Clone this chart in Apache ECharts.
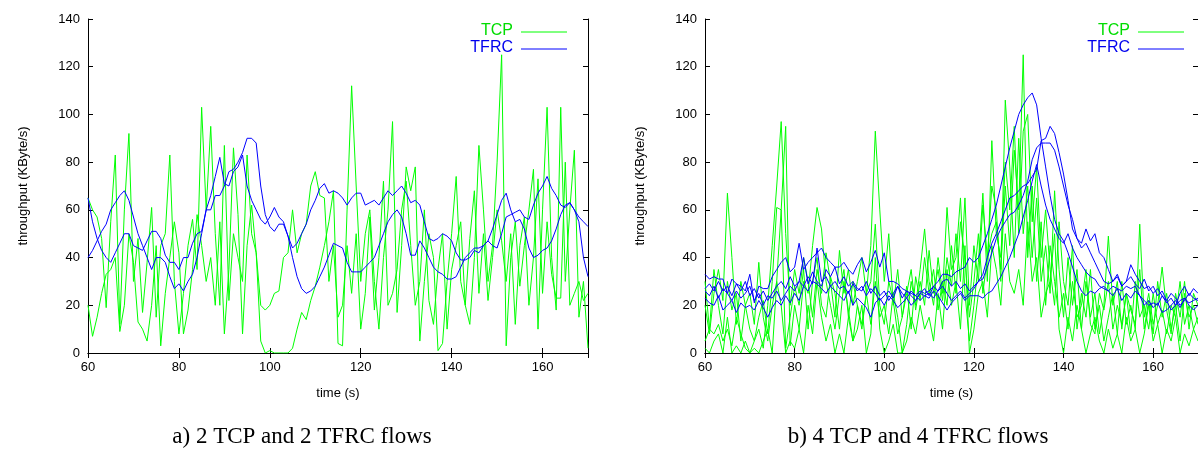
<!DOCTYPE html>
<html><head><meta charset="utf-8">
<script src="https://cdn.jsdelivr.net/npm/echarts@6/dist/echarts.min.js"></script>
<style>html,body{margin:0;padding:0;background:#fff}#c{width:1198px;height:452px}</style>
</head><body><div id="c"></div>
<script>
const timeStart = 60;
const timeStep = 1;
const xTicks = [60, 80, 100, 120, 140, 160];
const xMax = 170;
const yTicks = [0, 20, 40, 60, 80, 100, 120, 140];
const seriesNames = ['TCP', 'TFRC'];
const captions = ['a) 2 TCP and 2 TFRC flows', 'b) 4 TCP and 4 TFRC flows'];

// ---- a) 2 TCP and 2 TFRC flows (KByte/s, one value per second from t=60) ----
const leftTcp1 = [
  65,60,57,48,19,55,83,12,60,92,
  30,48,17,38,61,15,45,50,83,30,
  8,25,45,56,35,103,60,95,50,20,
  87,22,50,40,30,83,50,42,5,0,
  1,0,0,0,0,2,10,17,14,22,
  28,36,45,55,68,4,3,60,112,70,
  30,50,60,30,10,40,60,97,17,45,
  78,68,78,5,30,50,40,1,4,30,
  50,74,30,20,12,40,87,60,30,45,
  80,125,3,40,55,28,45,60,77,10,
  60,103,40,18,103,30,60,85,15,30,
  2];
const leftTcp2 = [
  20,7,15,25,33,35,40,9,20,50,
  38,13,10,5,20,45,3,25,40,55,
  42,8,18,35,58,45,30,40,20,55,
  8,35,86,58,8,45,62,42,20,18,
  20,25,26,40,42,60,42,50,54,70,
  76,66,65,30,45,15,20,45,25,50,
  10,25,57,18,40,72,20,25,35,60,
  72,45,20,30,60,22,12,35,50,10,
  35,45,55,20,48,68,25,50,22,40,
  60,47,30,50,12,45,57,20,40,73,
  25,55,33,23,23,80,20,25,30,22,
  25];
const leftTfrc1 = [
  65,55,48,43,40,38,42,46,50,50,
  45,44,43,47,51,51,48,41,38,38,
  35,40,40,46,50,51,60,60,66,66,
  70,76,77,80,84,90,90,88,70,58,
  53,51,54,54,49,44,46,50,54,60,
  64,69,71,67,68,67,65,62,65,67,
  67,62,63,64,62,65,68,66,68,70,
  67,63,64,62,55,48,47,48,50,49,
  47,42,39,39,40,43,42,45,47,45,
  44,50,57,58,59,60,57,56,62,67,
  70,74,69,66,62,61,63,60,57,55,
  53];
const leftTfrc2 = [
  40,43,47,51,54,60,63,66,68,64,
  57,50,45,40,35,40,40,38,32,27,
  29,26,30,33,40,50,60,66,74,82,
  71,70,76,78,83,70,64,60,56,54,
  57,61,57,55,49,40,32,27,25,26,
  28,32,36,41,46,45,44,38,34,34,
  34,36,38,40,45,50,55,58,60,57,
  50,41,41,47,44,40,36,34,33,31,
  31,32,36,40,42,44,44,45,47,52,
  58,64,67,60,55,56,52,44,40,41,
  43,44,47,52,58,62,63,60,55,40,
  32];

// ---- b) 4 TCP and 4 TFRC flows ----
const rightTcp1 = [
  20,8,25,35,22,67,40,12,30,20,
  25,12,38,15,5,20,30,60,2,15,
  28,20,35,10,30,40,20,15,32,25,
  10,30,18,5,20,12,25,30,54,20,
  12,30,22,8,15,25,35,18,30,20,
  43,25,35,22,40,28,50,30,65,20,
  45,30,62,40,50,55,35,70,45,85,
  60,125,40,70,30,55,20,45,30,15,
  25,10,30,15,20,35,12,8,25,18,
  30,10,20,12,25,8,30,15,20,10,
  25,12,18,8,20,15,30,12,20,10,
  15];
const rightTcp2 = [
  5,10,8,12,5,10,3,15,8,2,
  0,5,10,2,20,45,70,97,50,20,
  35,25,40,30,15,35,25,42,30,15,
  43,25,35,20,30,40,25,45,93,60,
  30,50,20,35,15,28,10,32,22,40,
  25,35,18,30,20,45,25,55,40,15,
  30,50,25,40,70,60,30,106,78,40,
  90,50,70,40,65,30,45,25,68,35,
  15,40,20,35,10,30,15,25,8,20,
  49,20,30,10,25,18,12,35,10,22,
  8,30,15,25,10,20,5,25,15,20,
  12];
const rightTcp3 = [
  30,10,35,20,8,30,18,25,5,20,
  10,5,15,22,8,30,61,60,95,3,
  20,10,30,25,45,61,52,30,20,10,
  25,35,15,30,20,10,25,12,30,15,
  20,8,25,15,0,12,30,20,35,52,
  30,20,40,25,61,35,40,65,25,5,
  20,38,67,30,89,50,40,80,60,95,
  50,93,100,55,78,40,60,35,20,55,
  30,20,45,10,25,15,35,10,20,5,
  15,25,8,30,12,20,10,54,15,25,
  12,20,36,18,8,25,15,30,10,25,
  20];
const rightTcp4 = [
  2,0,5,8,0,15,0,3,0,5,
  0,2,0,5,10,0,30,20,0,5,
  2,10,0,20,8,30,15,5,12,0,
  8,0,15,5,10,20,0,8,40,10,
  0,5,12,0,0,5,15,8,20,10,
  15,5,25,10,35,20,30,10,45,0,
  10,25,30,15,45,35,20,50,30,25,
  35,20,55,30,40,15,25,30,50,10,
  0,15,5,20,10,0,8,15,5,0,
  10,2,8,0,15,5,10,0,8,20,
  5,12,0,10,5,15,0,8,3,10,
  5];
const rightTfrc1 = [
  33,31,32,31,31,25,31,29,28,26,
  33,21,28,27,27,32,35,38,40,34,
  36,46,35,38,40,42,44,40,38,36,
  36,38,35,33,37,40,34,38,43,36,
  42,30,30,29,27,26,25,24,26,25,
  26,28,30,33,33,32,34,35,36,40,
  38,40,45,50,56,62,70,78,86,93,
  100,104,107,109,104,90,78,66,56,50,
  47,42,36,30,26,24,26,25,27,28,
  26,28,27,26,28,27,28,24,22,20,
  21,20,24,22,18,20,22,23,21,22,
  23];
const rightTfrc2 = [
  27,29,26,30,26,28,24,29,26,30,
  24,27,23,26,22,25,28,30,27,32,
  28,30,40,29,34,30,28,35,32,36,
  29,32,28,30,27,26,30,25,28,24,
  26,22,25,28,23,26,24,22,25,27,
  24,28,26,30,31,28,30,27,29,26,
  28,30,33,40,46,50,55,60,65,66,
  68,70,71,74,77,89,90,95,92,84,
  75,64,52,48,46,52,47,50,42,40,
  35,30,32,28,30,37,33,30,27,28,
  25,27,24,21,23,20,25,28,24,27,
  25];
const rightTfrc3 = [
  26,24,28,23,27,25,22,26,23,25,
  28,22,25,20,24,23,26,22,25,28,
  26,30,28,32,29,44,30,32,28,30,
  27,28,25,29,26,28,24,27,25,22,
  24,26,23,28,25,23,26,24,22,24,
  25,23,26,28,25,22,24,26,23,25,
  27,30,31,36,42,48,52,55,58,59,
  62,66,72,81,86,88,88,88,85,78,
  70,62,56,48,44,46,42,38,34,30,
  29,30,33,28,30,32,29,27,31,26,
  28,24,26,22,25,23,20,22,25,23,
  22];
const rightTfrc4 = [
  23,21,20,24,18,20,22,17,21,19,
  20,18,22,19,15,19,22,20,24,21,
  25,22,28,26,30,29,27,25,28,26,
  24,22,26,20,23,21,19,15,21,23,
  20,24,22,19,21,23,20,22,25,24,
  23,26,24,21,18,21,23,25,22,24,
  24,24,23,25,26,29,32,36,40,45,
  50,57,64,72,79,70,62,56,52,48,
  46,50,44,40,37,34,32,31,28,27,
  26,24,27,22,25,23,26,24,20,22,
  19,21,17,18,20,22,19,23,20,18,
  20];

const GREEN = '#00ff00', BLUE = '#0000ff';
const FONT = 'Liberation Sans, Arial, Helvetica, sans-serif';
const SERIF = '"Liberation Serif", "Times New Roman", serif';
const pts = arr => arr.map((v, i) => [timeStart + i * timeStep, v]);

const grids = [
  { left: 88, top: 19, width: 500, height: 334 },
  { left: 705, top: 19, width: 500, height: 334 }
];
const xInterval = xTicks[1] - xTicks[0];
const yInterval = yTicks[1] - yTicks[0];

function xAxisPair(g) {
  const base = {
    gridIndex: g, type: 'value', min: xTicks[0], max: xMax, interval: xInterval,
    axisLine: { show: true, lineStyle: { color: '#000', width: 1 } },
    axisTick: { show: true, inside: true, length: 5, lineStyle: { color: '#000' } },
    splitLine: { show: false }
  };
  return [
    Object.assign({}, base, {
      position: 'bottom',
      axisLabel: { fontSize: 13, color: '#000', fontFamily: FONT, margin: 8, showMaxLabel: false },
      name: 'time (s)', nameLocation: 'middle', nameGap: 34,
      nameTextStyle: { fontSize: 13, color: '#000', fontFamily: FONT }
    }),
    Object.assign({}, base, { position: 'top', axisLabel: { show: false } })
  ];
}
function yAxisPair(g) {
  const base = {
    gridIndex: g, type: 'value', min: yTicks[0], max: yTicks[yTicks.length - 1], interval: yInterval,
    axisLine: { show: true, lineStyle: { color: '#000', width: 1 } },
    axisTick: { show: true, inside: true, length: 5, lineStyle: { color: '#000' } },
    splitLine: { show: false }
  };
  return [
    Object.assign({}, base, {
      position: 'left',
      axisLabel: { fontSize: 13, color: '#000', fontFamily: FONT, margin: 8 },
      name: 'throughput (KByte/s)', nameLocation: 'middle', nameGap: 58, nameRotate: 90,
      nameTextStyle: { fontSize: 13, color: '#000', fontFamily: FONT }
    }),
    Object.assign({}, base, { position: 'right', axisLabel: { show: false } })
  ];
}

function line(name, data, g, color) {
  return {
    name, type: 'line', data: pts(data), xAxisIndex: g * 2, yAxisIndex: g * 2,
    symbol: 'none', showSymbol: false, animation: false,
    lineStyle: { width: 1, color }, itemStyle: { color }, z: color === BLUE ? 3 : 2
  };
}

const series = [
  line(seriesNames[0], leftTcp1, 0, GREEN),
  line(seriesNames[0], leftTcp2, 0, GREEN),
  line(seriesNames[1], leftTfrc1, 0, BLUE),
  line(seriesNames[1], leftTfrc2, 0, BLUE),
  line(seriesNames[0], rightTcp1, 1, GREEN),
  line(seriesNames[0], rightTcp2, 1, GREEN),
  line(seriesNames[0], rightTcp3, 1, GREEN),
  line(seriesNames[0], rightTcp4, 1, GREEN),
  line(seriesNames[1], rightTfrc1, 1, BLUE),
  line(seriesNames[1], rightTfrc2, 1, BLUE),
  line(seriesNames[1], rightTfrc3, 1, BLUE),
  line(seriesNames[1], rightTfrc4, 1, BLUE)
];

function legendGraphics(textRight, lineX1, lineX2) {
  const items = [[seriesNames[0], GREEN, '#00dd00', 31], [seriesNames[1], BLUE, '#0000ee', 48]];
  const out = [];
  items.forEach(([name, lc, tc, y]) => {
    out.push({ type: 'text', x: textRight, y: y, z: 10,
      style: { text: name, fill: tc, font: '16px ' + FONT, align: 'right', verticalAlign: 'middle' } });
    out.push({ type: 'line', z: 10, shape: { x1: lineX1, y1: y + 1, x2: lineX2, y2: y + 1 },
      style: { stroke: lc, lineWidth: 1 } });
  });
  return out;
}

const graphic = [].concat(
  legendGraphics(513, 521, 567),
  legendGraphics(1130, 1138, 1184),
  [
    { type: 'text', x: 302, y: 437, style: { text: captions[0], align: 'center', verticalAlign: 'middle', fill: '#000', font: '23px ' + SERIF } },
    { type: 'text', x: 918, y: 437, style: { text: captions[1], align: 'center', verticalAlign: 'middle', fill: '#000', font: '23px ' + SERIF } }
  ]
);

const chart = echarts.init(document.getElementById('c'), null, { renderer: 'canvas' });
chart.setOption({
  backgroundColor: '#fff',
  animation: false,
  grid: grids,
  xAxis: [].concat(xAxisPair(0), xAxisPair(1)),
  yAxis: [].concat(yAxisPair(0), yAxisPair(1)),
  series,
  graphic
});
</script>
</body></html>
